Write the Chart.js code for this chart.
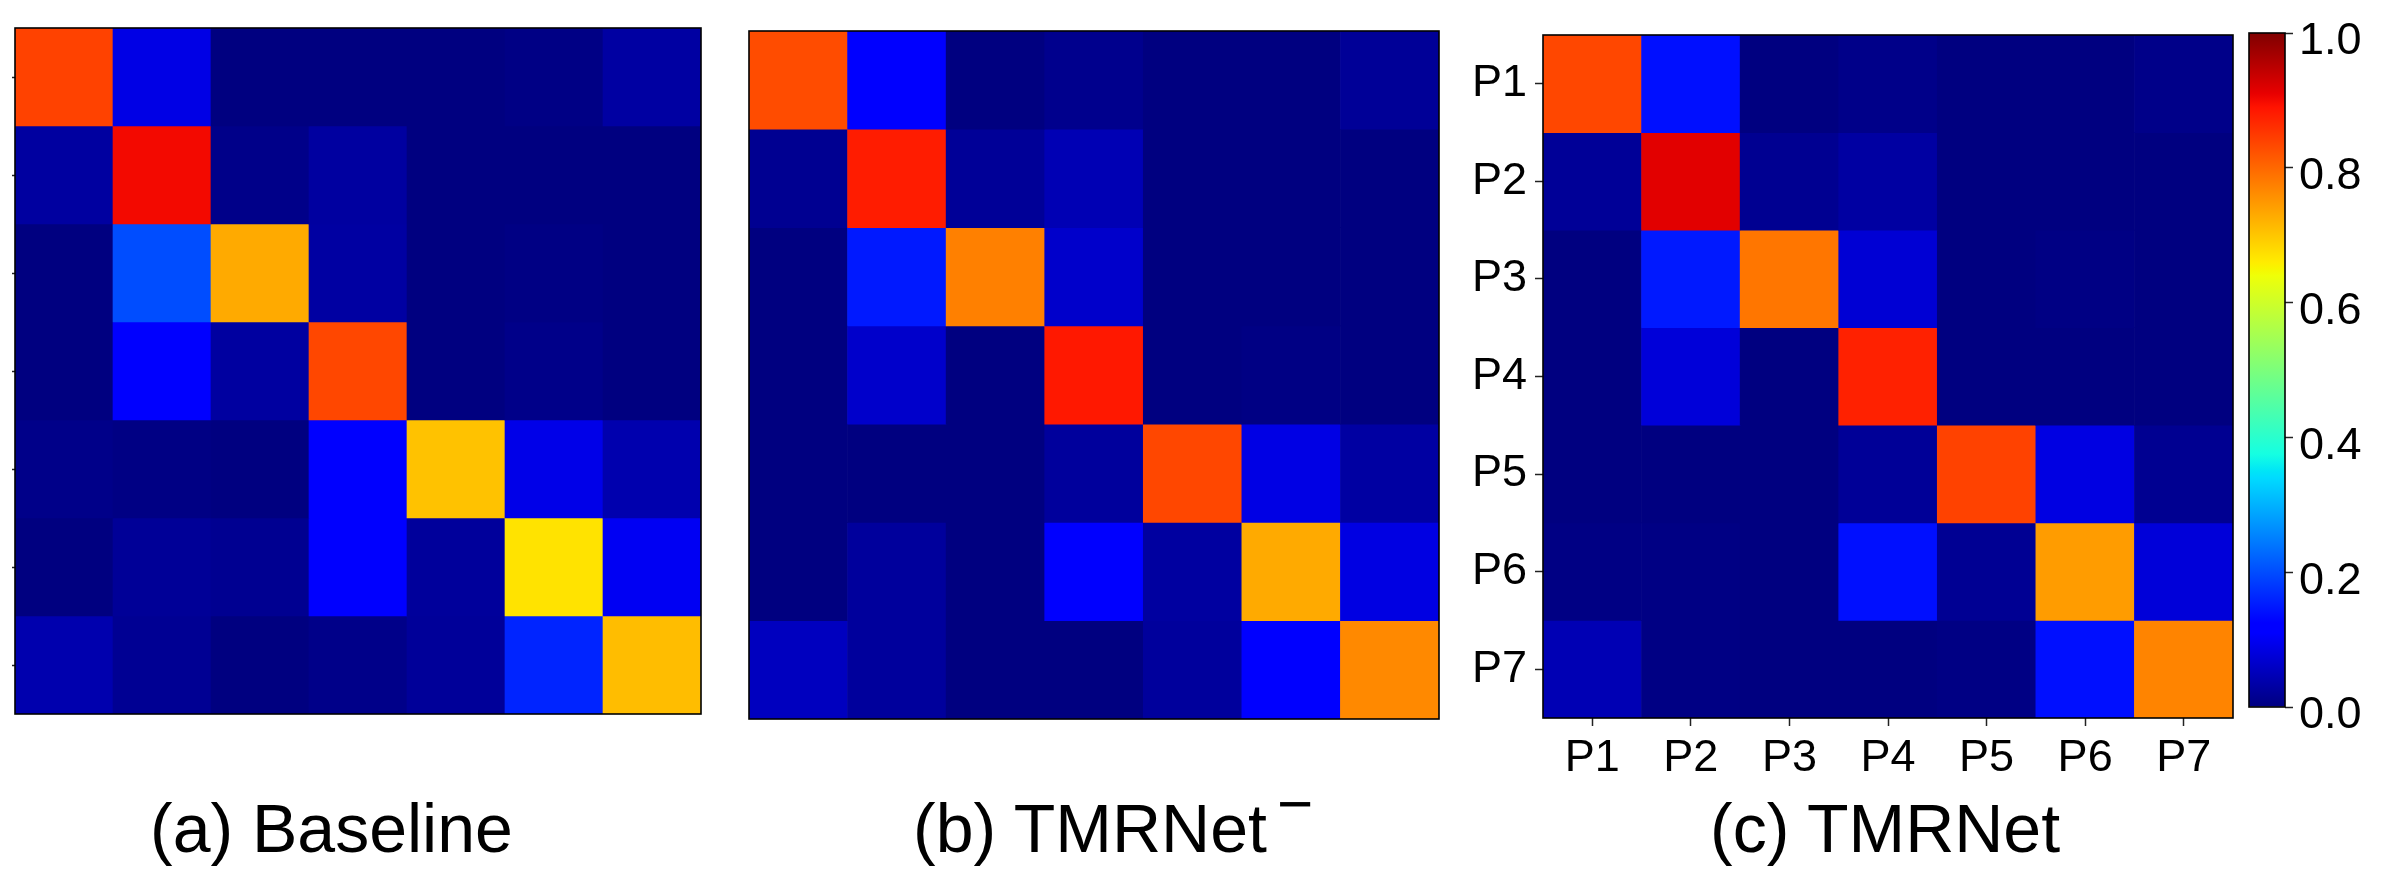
<!DOCTYPE html>
<html>
<head>
<meta charset="utf-8">
<title>Confusion matrices</title>
<script src="https://cdn.jsdelivr.net/npm/chart.js@4.4.1/dist/chart.umd.min.js"></script>
<style>
  html, body { margin: 0; padding: 0; background: #fff; }
  #page { position: relative; width: 2381px; height: 880px; overflow: hidden; }
  .box { position: absolute; top: 0; }
  .caption {
    position: absolute; top: 794px; white-space: nowrap;
    font-family: "Liberation Sans", Arial, sans-serif;
    font-size: 68px; line-height: 68px; color: #000;
  }
  .caption .sup { font-size: 62px; position: relative; top: -27px; margin-left: 10px; }
</style>
</head>
<body>
<div id="page">
  <div class="box" style="left:0px; width:720px; height:740px;"><canvas id="chartA"></canvas></div>
  <div class="box" style="left:740px; width:710px; height:740px;"><canvas id="chartB"></canvas></div>
  <div class="box" style="left:1440px; width:800px; height:790px;"><canvas id="chartC"></canvas></div>
  <div class="box" style="left:2240px; width:141px; height:740px;"><canvas id="colorbar"></canvas></div>

  <div class="caption" style="left:150px;">(a) Baseline</div>
  <div class="caption" style="left:913px;">(b) TMRNet<span class="sup">&minus;</span></div>
  <div class="caption" style="left:1710px;">(c) TMRNet</div>
</div>

<script>
// class names (rows = true class, columns = predicted class)
const classLabels = ['P1', 'P2', 'P3', 'P4', 'P5', 'P6', 'P7'];
const colorbarTicks = [0.0, 0.2, 0.4, 0.6, 0.8, 1.0];

// (a) Baseline
const baselineMatrix = [
  [0.84,  0.088, 0.0,   0.0,   0.0,   0.005, 0.03 ],
  [0.028, 0.90,  0.008, 0.028, 0.0,   0.0,   0.0  ],
  [0.0,   0.20,  0.73,  0.03,  0.0,   0.004, 0.0  ],
  [0.0,   0.115, 0.028, 0.835, 0.0,   0.008, 0.0  ],
  [0.008, 0.004, 0.0,   0.118, 0.705, 0.09,  0.04 ],
  [0.0,   0.02,  0.015, 0.118, 0.024, 0.67,  0.10 ],
  [0.04,  0.017, 0.0,   0.008, 0.022, 0.16,  0.71 ]
];

// (b) TMRNet-
const tmrnetMinusMatrix = [
  [0.83,  0.12,  0.0,   0.012, 0.0,   0.0,   0.02 ],
  [0.015, 0.88,  0.02,  0.045, 0.0,   0.0,   0.0  ],
  [0.0,   0.15,  0.775, 0.065, 0.0,   0.0,   0.0  ],
  [0.0,   0.065, 0.0,   0.885, 0.0,   0.004, 0.0  ],
  [0.0,   0.0,   0.0,   0.025, 0.835, 0.087, 0.03 ],
  [0.0,   0.025, 0.0,   0.12,  0.028, 0.73,  0.085],
  [0.055, 0.025, 0.0,   0.0,   0.025, 0.12,  0.765]
];

// (c) TMRNet
const tmrnetMatrix = [
  [0.835, 0.14,  0.0,   0.008, 0.0,   0.0,   0.008],
  [0.02,  0.915, 0.015, 0.03,  0.0,   0.0,   0.0  ],
  [0.0,   0.15,  0.785, 0.073, 0.0,   0.004, 0.0  ],
  [0.0,   0.077, 0.0,   0.875, 0.0,   0.0,   0.0  ],
  [0.0,   0.0,   0.0,   0.02,  0.84,  0.085, 0.015],
  [0.004, 0.004, 0.0,   0.14,  0.017, 0.745, 0.077],
  [0.045, 0.004, 0.0,   0.0,   0.004, 0.14,  0.77 ]
];

Chart.defaults.font.family = '"Liberation Sans", Arial, sans-serif';
Chart.defaults.color = '#000';

// matplotlib "jet" colormap, piecewise linear per channel
const jetSegments = {
  r: [[0, 0], [0.35, 0], [0.66, 1], [0.89, 1], [1, 0.5]],
  g: [[0, 0], [0.125, 0], [0.375, 1], [0.64, 1], [0.91, 0], [1, 0]],
  b: [[0, 0.5], [0.11, 1], [0.34, 1], [0.65, 0], [1, 0]]
};

function channel(seg, v) {
  for (let i = 1; i < seg.length; i++) {
    if (v <= seg[i][0]) {
      const [x0, y0] = seg[i - 1];
      const [x1, y1] = seg[i];
      return y0 + (y1 - y0) * (v - x0) / (x1 - x0);
    }
  }
  return seg[seg.length - 1][1];
}

function jet(v) {
  v = Math.max(0, Math.min(1, v));
  const r = Math.round(255 * channel(jetSegments.r, v));
  const g = Math.round(255 * channel(jetSegments.g, v));
  const b = Math.round(255 * channel(jetSegments.b, v));
  return `rgb(${r},${g},${b})`;
}

// black outline around the plot area
const framePlugin = {
  id: 'frame',
  afterDatasetsDraw(chart) {
    const { ctx, chartArea: a } = chart;
    ctx.save();
    ctx.strokeStyle = '#000';
    ctx.lineWidth = 1.6;
    ctx.strokeRect(a.left, a.top, a.right - a.left, a.bottom - a.top);
    ctx.restore();
  }
};

// one heat map = stacked unit bars, one dataset per row, coloured by value
function createMatrixChart(canvasId, matrix, cfg) {
  const datasets = matrix.map(row => ({
    data: row.map(() => 1),
    backgroundColor: row.map(jet),
    borderWidth: 0,
    barPercentage: 1,
    categoryPercentage: 1
  }));

  return new Chart(document.getElementById(canvasId), {
    type: 'bar',
    data: { labels: classLabels, datasets: datasets },
    plugins: [framePlugin],
    options: {
      responsive: true,
      maintainAspectRatio: false,
      animation: false,
      events: [],
      layout: { padding: cfg.padding },
      plugins: { legend: { display: false }, tooltip: { enabled: false } },
      scales: {
        x: {
          stacked: true,
          display: cfg.showX,
          afterFit: s => { s.height = cfg.xHeight || 0; },
          grid: { offset: false, drawOnChartArea: false, tickLength: 8, tickWidth: 1.5, color: '#222' },
          border: { display: false },
          ticks: { font: { size: 45 }, padding: 6, maxRotation: 0, autoSkip: false }
        },
        y: {
          stacked: true,
          reverse: true,
          min: 0,
          max: classLabels.length,
          display: cfg.showY,
          afterFit: s => { s.width = cfg.yWidth || 0; },
          afterBuildTicks: s => { s.ticks = classLabels.map((_, i) => ({ value: i + 0.5 })); },
          grid: { drawOnChartArea: false, tickLength: cfg.yTickLength, tickWidth: 1.5, color: '#222' },
          border: { display: false },
          ticks: {
            display: cfg.yLabels,
            font: { size: 45 },
            padding: 8,
            autoSkip: false,
            callback: (v, i) => classLabels[i]
          }
        }
      }
    }
  });
}

// (a) Baseline: small left tick marks, no labels
createMatrixChart('chartA', baselineMatrix, {
  padding: { left: 0, right: 19, top: 28, bottom: 26 },
  showX: false, showY: true, yLabels: false, yWidth: 15, yTickLength: 3
});

// (b) TMRNet-: no axes
createMatrixChart('chartB', tmrnetMinusMatrix, {
  padding: { left: 9, right: 11, top: 31, bottom: 21 },
  showX: false, showY: false, yTickLength: 0
});

// (c) TMRNet: labelled axes
createMatrixChart('chartC', tmrnetMatrix, {
  padding: { left: 0, right: 7, top: 28, bottom: 0 },
  showX: true, xHeight: 72, showY: true, yLabels: true, yWidth: 103, yTickLength: 8
});

// colour bar: one floating bar 0..1 painted with the jet gradient
const jetStops = [0, 0.11, 0.125, 0.34, 0.35, 0.375, 0.64, 0.65, 0.66, 0.89, 0.91, 1];

new Chart(document.getElementById('colorbar'), {
  type: 'bar',
  data: {
    labels: [''],
    datasets: [{
      data: [[0, 1]],
      borderWidth: 0,
      barPercentage: 1,
      categoryPercentage: 1,
      backgroundColor: (context) => {
        const area = context.chart.chartArea;
        if (!area) return jet(0.5);
        const grad = context.chart.ctx.createLinearGradient(0, area.bottom, 0, area.top);
        jetStops.forEach(s => grad.addColorStop(s, jet(s)));
        return grad;
      }
    }]
  },
  plugins: [framePlugin],
  options: {
    responsive: true,
    maintainAspectRatio: false,
    animation: false,
    events: [],
    layout: { padding: { left: 9, right: 0, top: 26, bottom: 24 } },
    plugins: { legend: { display: false }, tooltip: { enabled: false } },
    scales: {
      x: { display: false },
      y: {
        position: 'right',
        min: 0,
        max: 1,
        afterFit: s => { s.width = 96; },
        afterBuildTicks: s => { s.ticks = colorbarTicks.map(v => ({ value: v })); },
        grid: { drawOnChartArea: false, tickLength: 8, tickWidth: 1.5, color: '#222' },
        border: { display: false },
        ticks: {
          font: { size: 45 },
          padding: 6,
          labelOffset: 9,
          callback: v => v.toFixed(1)
        }
      }
    }
  }
});
</script>
</body>
</html>
